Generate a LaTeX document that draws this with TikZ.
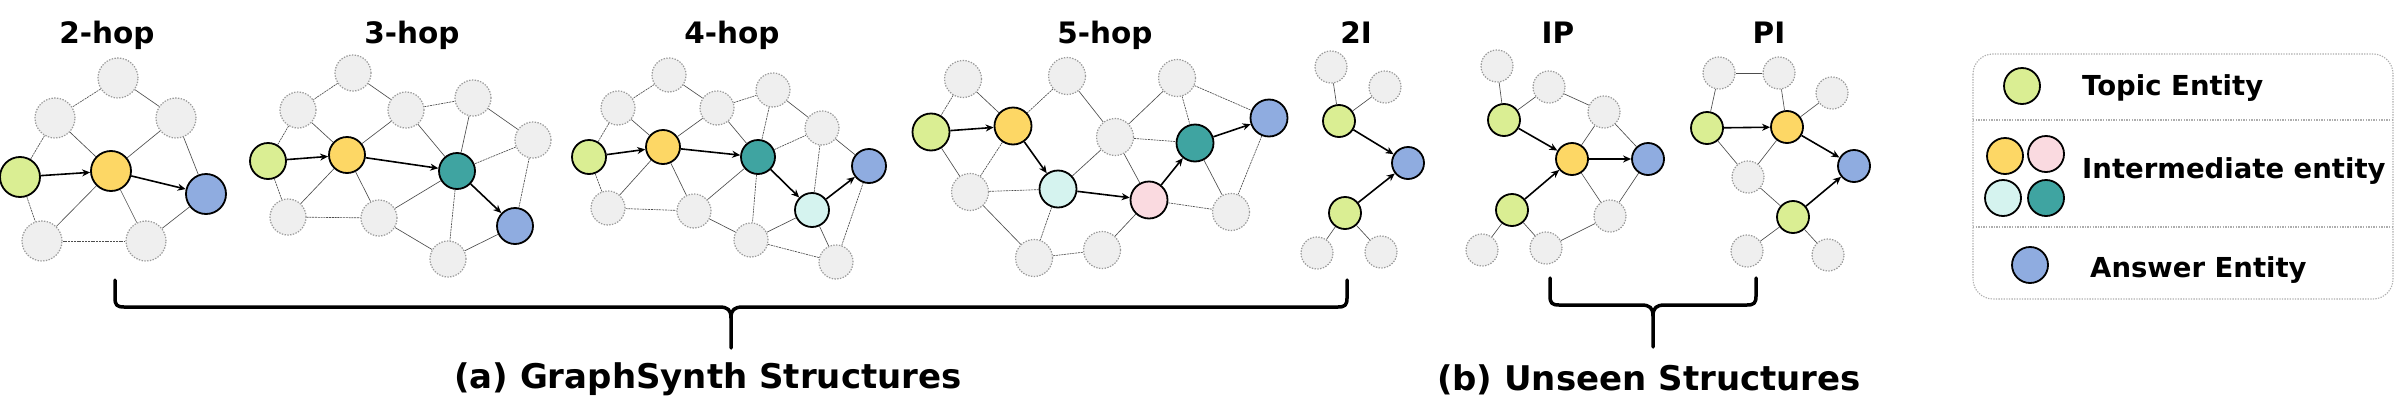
\documentclass[tikz,border=0pt]{standalone}
\usepackage{fontspec}
\setmainfont{DejaVu Sans}
\usetikzlibrary{arrows.meta}
\definecolor{ggray}{HTML}{EFEFEF}
\definecolor{gbord}{HTML}{9A9A9A}
\definecolor{gline}{HTML}{4D4D4D}
\definecolor{cgreen}{HTML}{DAEE93}
\definecolor{cyel}{HTML}{FDD765}
\definecolor{cblue}{HTML}{8FACE0}
\definecolor{cteal}{HTML}{3FA4A1}
\definecolor{ccyan}{HTML}{D5F3EF}
\definecolor{cpink}{HTML}{FADAE0}
\tikzset{
  gn/.style={circle, inner sep=0pt, fill=ggray, draw=gbord, line width=1.2pt, dash pattern=on 1.4pt off 1.4pt},
  en/.style={circle, inner sep=0pt, fill=#1, draw=black, line width=1.8pt},
  sz/.style={minimum size=#1},
  ge/.style={draw=gline, line width=0.65pt},
  gd/.style={draw=gline, line width=0.65pt, dash pattern=on 2pt off 0.8pt},
  arr/.style={draw=black, line width=1.6pt, -{Stealth[length=8pt,width=7pt,inset=2.5pt]}},
  ttl/.style={font=\bfseries\fontsize{29.5}{34}\selectfont, anchor=base, inner sep=0pt},
  lgt/.style={font=\bfseries\fontsize{27.5}{32}\selectfont, anchor=base west, inner sep=0pt},
  captxt/.style={font=\bfseries\fontsize{34}{40}\selectfont, anchor=base, inner sep=0pt},
  brace/.style={draw=black, line width=3.5pt, line cap=round, line join=round},
}
\begin{document}
\begin{tikzpicture}[x=1pt, y=-1pt]
\useasboundingbox (0,0) rectangle (2400,407);

% ---------- titles
\node[ttl] (t1) at (107,43) {2-hop};
\node[ttl] (t2) at (412,43) {3-hop};
\node[ttl] (t3) at (732,43) {4-hop};
\node[ttl] (t4) at (1105,43) {5-hop};
\node[ttl] (t5) at (1356,43) {2I};
\node[ttl] (t6) at (1558,43) {IP};
\node[ttl] (t7) at (1769,43) {PI};

% ---------- 2-hop
\begin{scope}[every node/.append style={sz=40pt}]
\node[gn] (a1) at (118,78) {};
\node[gn] (a2) at (55,118) {};
\node[gn] (a3) at (176,118) {};
\node[en=cgreen] (aG) at (20,177) {};
\node[en=cyel] (aY) at (111,171) {};
\node[en=cblue] (aB) at (206,194) {};
\node[gn] (a4) at (42,241) {};
\node[gn] (a5) at (146,241) {};
\end{scope}
\draw[gd] (a1) -- (a2);
\draw[ge] (a1) -- (a3);
\draw[gd] (a2) -- (aG);
\draw[ge] (a2) -- (aY);
\draw[ge] (a3) -- (aY);
\draw[ge] (a3) -- (aB);
\draw[gd] (aG) -- (a4);
\draw[ge] (aY) -- (a4);
\draw[ge] (aY) -- (a5);
\draw[gd] (a4) -- (a5);
\draw[ge] (a5) -- (aB);
\draw[arr] (aG) -- (aY);
\draw[arr] (aY) -- (aB);

% ---------- 3-hop
\begin{scope}[every node/.append style={sz=36pt}]
\node[gn] (b1) at (353,73) {};
\node[gn] (b2) at (298,110) {};
\node[gn] (b3) at (406,110) {};
\node[gn] (b4) at (473,98) {};
\node[gn] (b5) at (533,140) {};
\node[en=cgreen] (bG) at (268,161) {};
\node[en=cyel] (bY) at (347,155) {};
\node[en=cteal] (bT) at (457,171) {};
\node[en=cblue] (bB) at (515,226) {};
\node[gn] (b6) at (288,217) {};
\node[gn] (b7) at (379,218) {};
\node[gn] (b8) at (448,259) {};
\end{scope}
\draw[gd] (b1) -- (b2);
\draw[ge] (b1) -- (b3);
\draw[gd] (b2) -- (bG);
\draw[ge] (b2) -- (bY);
\draw[ge] (b3) -- (bY);
\draw[gd] (b3) -- (b4);
\draw[ge] (b3) -- (bT);
\draw[ge] (b4) -- (bT);
\draw[ge] (b4) -- (b5);
\draw[gd] (b5) -- (bT);
\draw[gd] (b5) -- (bB);
\draw[gd] (bG) -- (b6);
\draw[ge] (bY) -- (b6);
\draw[ge] (bY) -- (b7);
\draw[gd] (b6) -- (b7);
\draw[ge] (b7) -- (bT);
\draw[ge] (b7) -- (b8);
\draw[gd] (bT) -- (b8);
\draw[ge] (b8) -- (bB);
\draw[arr] (bG) -- (bY);
\draw[arr] (bY) -- (bT);
\draw[arr] (bT) -- (bB);

% ---------- 4-hop
\begin{scope}[every node/.append style={sz=34pt}]
\node[gn] (c1) at (669,75) {};
\node[gn] (c2) at (618,108) {};
\node[gn] (c3) at (717,108) {};
\node[gn] (c4) at (773,90) {};
\node[gn] (c5) at (822,128) {};
\node[en=cgreen] (cG) at (589,157) {};
\node[en=cyel] (cY) at (663,147) {};
\node[en=cteal] (cT) at (758,157) {};
\node[en=ccyan] (cC) at (812,210) {};
\node[en=cblue] (cB) at (869,166) {};
\node[gn] (c6) at (608,208) {};
\node[gn] (c7) at (694,211) {};
\node[gn] (c8) at (751,240) {};
\node[gn] (c9) at (836,262) {};
\end{scope}
\draw[gd] (c1) -- (c2);
\draw[ge] (c1) -- (c3);
\draw[gd] (c2) -- (cG);
\draw[ge] (c2) -- (cY);
\draw[ge] (c3) -- (cY);
\draw[gd] (c3) -- (c4);
\draw[ge] (c3) -- (cT);
\draw[gd] (c4) -- (cT);
\draw[ge] (c4) -- (c5);
\draw[gd] (cT) -- (c5);
\draw[gd] (c5) -- (cC);
\draw[ge] (c5) -- (cB);
\draw[gd] (cG) -- (c6);
\draw[ge] (cY) -- (c6);
\draw[ge] (cY) -- (c7);
\draw[gd] (c6) -- (c7);
\draw[ge] (c7) -- (cT);
\draw[ge] (c7) -- (c8);
\draw[gd] (cT) -- (c8);
\draw[ge] (c8) -- (cC);
\draw[gd] (c8) -- (c9);
\draw[ge] (cC) -- (c9);
\draw[gd] (c9) -- (cB);
\draw[arr] (cG) -- (cY);
\draw[arr] (cY) -- (cT);
\draw[arr] (cT) -- (cC);
\draw[arr] (cC) -- (cB);

% ---------- 5-hop
\begin{scope}[every node/.append style={sz=37pt}]
\node[gn] (d1) at (963,79) {};
\node[gn] (d2) at (1067,76) {};
\node[gn] (d3) at (1177,78) {};
\node[en=cgreen] (dG) at (931,132) {};
\node[en=cyel] (dY) at (1013,126) {};
\node[gn] (d4) at (1115,137) {};
\node[en=cteal] (dT) at (1195,143) {};
\node[en=cblue] (dB) at (1269,118) {};
\node[gn] (d5) at (970,192) {};
\node[en=ccyan] (dC) at (1058,189) {};
\node[en=cpink] (dP) at (1149,200) {};
\node[gn] (d6) at (1231,212) {};
\node[gn] (d7) at (1034,258) {};
\node[gn] (d8) at (1102,250) {};
\end{scope}
\draw[gd] (d1) -- (dG);
\draw[ge] (d1) -- (dY);
\draw[gd] (d2) -- (dY);
\draw[ge] (d2) -- (d4);
\draw[ge] (d3) -- (d4);
\draw[gd] (d3) -- (dT);
\draw[gd] (d3) -- (dB);
\draw[ge] (dG) -- (d5);
\draw[gd] (dY) -- (d5);
\draw[gd] (d5) -- (dC);
\draw[ge] (d5) -- (d7);
\draw[ge] (dC) -- (d4);
\draw[gd] (dC) -- (d7);
\draw[gd] (d4) -- (dT);
\draw[ge] (d4) -- (dP);
\draw[gd] (d7) -- (d8);
\draw[ge] (d8) -- (dP);
\draw[gd] (dP) -- (d6);
\draw[ge] (dT) -- (d6);
\draw[gd] (dB) -- (d6);
\draw[arr] (dG) -- (dY);
\draw[arr] (dY) -- (dC);
\draw[arr] (dC) -- (dP);
\draw[arr] (dP) -- (dT);
\draw[arr] (dT) -- (dB);

% ---------- 2I
\begin{scope}[every node/.append style={sz=32pt}]
\node[gn] (e1) at (1331,67) {};
\node[gn] (e2) at (1385,87) {};
\node[en=cgreen] (eG1) at (1339,121) {};
\node[en=cblue] (eB) at (1408,163) {};
\node[en=cgreen] (eG2) at (1345,213) {};
\node[gn] (e3) at (1317,253) {};
\node[gn] (e4) at (1381,252) {};
\end{scope}
\draw[ge] (e1) -- (eG1);
\draw[ge] (e2) -- (eG1);
\draw[ge] (eG2) -- (e3);
\draw[ge] (eG2) -- (e4);
\draw[arr] (eG1) -- (eB);
\draw[arr] (eG2) -- (eB);

% ---------- IP
\begin{scope}[every node/.append style={sz=32pt}]
\node[gn] (f1) at (1497,66) {};
\node[gn] (f2) at (1549,87) {};
\node[gn] (f3) at (1604,112) {};
\node[en=cgreen] (fG1) at (1504,120) {};
\node[en=cyel] (fY) at (1572,159) {};
\node[en=cblue] (fB) at (1648,159) {};
\node[en=cgreen] (fG2) at (1512,210) {};
\node[gn] (f4) at (1482,250) {};
\node[gn] (f5) at (1546,248) {};
\node[gn] (f6) at (1610,216) {};
\end{scope}
\draw[ge] (f1) -- (fG1);
\draw[ge] (f2) -- (fG1);
\draw[ge] (f2) -- (f3);
\draw[ge] (fY) -- (f3);
\draw[ge] (f3) -- (fB);
\draw[ge] (fY) -- (f6);
\draw[ge] (f6) -- (fB);
\draw[ge] (f5) -- (f6);
\draw[ge] (fG2) -- (f4);
\draw[ge] (fG2) -- (f5);
\draw[arr] (fG1) -- (fY);
\draw[arr] (fG2) -- (fY);
\draw[arr] (fY) -- (fB);

% ---------- PI
\begin{scope}[every node/.append style={sz=32pt}]
\node[gn] (g1) at (1719,73) {};
\node[gn] (g2) at (1779,73) {};
\node[gn] (g3) at (1832,93) {};
\node[en=cgreen] (gG1) at (1707,128) {};
\node[en=cyel] (gY) at (1787,127) {};
\node[en=cblue] (gB) at (1854,166) {};
\node[gn] (g4) at (1748,177) {};
\node[en=cgreen] (gG2) at (1793,217) {};
\node[gn] (g5) at (1747,251) {};
\node[gn] (g6) at (1828,255) {};
\end{scope}
\draw[ge] (g1) -- (g2);
\draw[ge] (g1) -- (gG1);
\draw[ge] (g2) -- (gY);
\draw[ge] (g3) -- (gY);
\draw[ge] (gG1) -- (g4);
\draw[ge] (gY) -- (g4);
\draw[ge] (g4) -- (gG2);
\draw[ge] (gG2) -- (g5);
\draw[ge] (gG2) -- (g6);
\draw[arr] (gG1) -- (gY);
\draw[arr] (gY) -- (gB);
\draw[arr] (gG2) -- (gB);

% ---------- braces
\coordinate (ba1) at (115,280);
\coordinate (ba2) at (1347,280);
\coordinate (bam) at (731,348);
\draw[brace] (ba1) -- (115,298) .. controls (115,305) and (117,307) .. (124,307)
  -- (719,307) .. controls (728,307) and (731,310) .. (731,318) -- (bam);
\draw[brace] (ba2) -- (1347,298) .. controls (1347,305) and (1345,307) .. (1338,307)
  -- (743,307) .. controls (734,307) and (731,310) .. (731,318);
\coordinate (bb1) at (1550,278);
\coordinate (bb2) at (1756,278);
\coordinate (bbm) at (1653,347);
\draw[brace] (bb1) -- (1550,296) .. controls (1550,303) and (1552,305) .. (1559,305)
  -- (1641,305) .. controls (1650,305) and (1653,308) .. (1653,316) -- (bbm);
\draw[brace] (bb2) -- (1756,296) .. controls (1756,303) and (1754,305) .. (1747,305)
  -- (1665,305) .. controls (1656,305) and (1653,308) .. (1653,316);

\node[captxt] (capa) at (708,388) {(a) GraphSynth Structures};
\node[captxt] (capb) at (1649,390) {(b) Unseen Structures};

% ---------- legend
\draw[draw=gbord!80, line width=1.1pt, dash pattern=on 1.3pt off 1.3pt, rounded corners=20pt]
  (1973,54) rectangle (2393,299);
\draw[draw=gbord!80, line width=1.1pt, dash pattern=on 1.3pt off 1.3pt] (1973,120) -- (2393,120);
\draw[draw=gbord!80, line width=1.1pt, dash pattern=on 1.3pt off 1.3pt] (1973,227) -- (2393,227);
\begin{scope}[every node/.append style={sz=36pt}]
\node[en=cgreen] (LG) at (2022,86) {};
\node[en=cyel] (LY) at (2005,156) {};
\node[en=cpink] (LP) at (2046,154) {};
\node[en=ccyan] (LC) at (2003,198) {};
\node[en=cteal] (LT) at (2046,198) {};
\node[en=cblue] (LB) at (2030,265) {};
\end{scope}
\node[lgt] (lt1) at (2082,95) {Topic Entity};
\node[lgt] (lt2) at (2082,178) {Intermediate entity};
\node[lgt] (lt3) at (2090,277) {Answer Entity};
\end{tikzpicture}
\end{document}
